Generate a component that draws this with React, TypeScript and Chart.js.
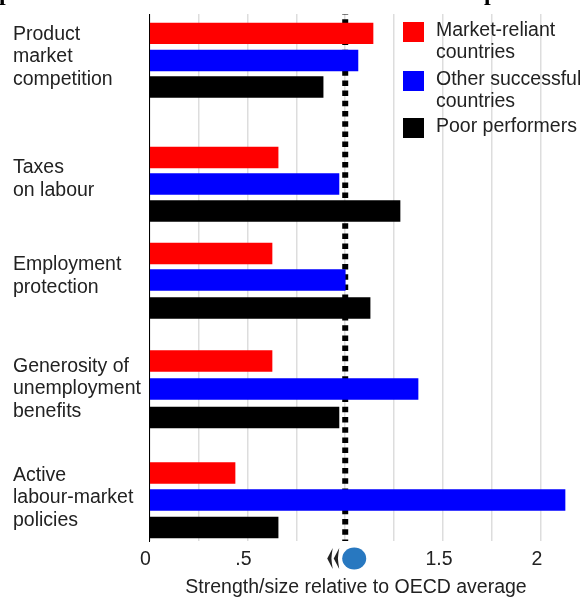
import React, { useEffect, useRef } from "react";
import { Chart, registerables } from "chart.js";

Chart.register(...registerables);

const categories: string[][] = [
  ["Product", "market", "competition"],
  ["Taxes", "on labour"],
  ["Employment", "protection"],
  ["Generosity of", "unemployment", "benefits"],
  ["Active", "labour-market", "policies"],
];
const seriesNames = ["Market-reliant countries", "Other successful countries", "Poor performers"];
const marketReliant = [1.142, 0.657, 0.626, 0.626, 0.437];
const otherSuccessful = [1.065, 0.968, 1.0, 1.372, 2.123];
const poorPerformers = [0.887, 1.28, 1.127, 0.968, 0.657];
const xTickLabels: Record<string, string> = { "0": "0", "0.5": ".5", "1.5": "1.5", "2": "2" };
const xTitle = "Strength/size relative to OECD average";

// row layout on the vertical scale (scale units are page pixels)
const redRows = [33.3, 157.5, 253.5, 361, 473];
const blueRows = [60.5, 184, 280, 389, 500];
const blackRows = [87, 211, 308, 417.5, 527.5];
const labelRows = [57, 179, 276, 389, 498];

const FONT = "Liberation Sans";
const TEXT = "#222222";

const pairs = (vals: number[], rows: number[]) => vals.map((x, i) => ({ x, y: rows[i] }));

const legendPlugin = {
  id: "sideLegend",
  afterDraw(chart: any) {
    const c = chart.ctx;
    const items = [
      { color: "#ff0000", y: 22, lines: ["Market-reliant", "countries"], ys: [30, 52] },
      { color: "#0000ff", y: 71, lines: ["Other successful", "countries"], ys: [79, 100.5] },
      { color: "#000000", y: 118, lines: ["Poor performers"], ys: [125.5] },
    ];
    c.save();
    c.textBaseline = "middle";
    c.textAlign = "left";
    c.font = `19.5px "${FONT}"`;
    items.forEach((it) => {
      c.fillStyle = it.color;
      c.fillRect(403, it.y, 21, 20);
      c.fillStyle = TEXT;
      it.lines.forEach((l, i) => c.fillText(l, 436, it.ys[i] + 1));
    });
    c.restore();
  },
};

const axisExtras = {
  id: "axisExtras",
  afterDraw(chart: any) {
    const c = chart.ctx;
    const sx = chart.scales.x;
    c.save();
    c.fillStyle = TEXT;
    c.textAlign = "center";
    c.textBaseline = "middle";
    c.font = `19.5px "${FONT}"`;
    c.fillText(xTitle, sx.getPixelForValue(1.055), 588);
    // OECD mark in place of the "1" tick label
    const px = sx.getPixelForValue(1);
    c.fillStyle = "#2878c0";
    c.beginPath();
    c.ellipse(px + 9, 558.5, 12, 11, 0, 0, Math.PI * 2);
    c.fill();
    c.fillStyle = "#222";
    [-18, -11.5].forEach((dx) => {
      const x = px + dx;
      c.beginPath();
      c.moveTo(x + 5.5, 548);
      c.lineTo(x, 558.5);
      c.lineTo(x + 5.5, 569);
      c.quadraticCurveTo(x + 4.5, 563, x + 4.2, 558.5);
      c.quadraticCurveTo(x + 4.5, 554, x + 5.5, 548);
      c.fill();
    });
    // clipped heading: only the descenders are left inside the page
    c.fillStyle = "#000";
    c.textAlign = "left";
    c.textBaseline = "alphabetic";
    c.font = `bold 24px "Liberation Serif"`;
    c.fillText("p", -1, 0);
    c.fillText("p", 484, 0);
    c.restore();
  },
};

export default function App() {
  const ref = useRef<HTMLCanvasElement | null>(null);
  useEffect(() => {
    document.body.style.margin = "0";
    const chart = new Chart(ref.current!, {
      type: "bar",
      data: {
        datasets: [
          { label: seriesNames[0], data: pairs(marketReliant, redRows), backgroundColor: "#ff0000", order: 1 },
          { label: seriesNames[1], data: pairs(otherSuccessful, blueRows), backgroundColor: "#0000ff", order: 1 },
          { label: seriesNames[2], data: pairs(poorPerformers, blackRows), backgroundColor: "#000000", order: 1 },
          {
            type: "line",
            label: "OECD average",
            data: [{ x: 1, y: 14 }, { x: 1, y: 541 }],
            borderColor: "#000",
            borderWidth: 6,
            borderDash: [5.5, 4.7],
            borderDashOffset: 5,
            pointRadius: 0,
            order: 2,
          },
        ] as any,
      },
      options: {
        indexAxis: "y",
        responsive: false,
        animation: false,
        parsing: false as any,
        normalized: false,
        layout: { padding: { left: 13, top: 14, right: 2, bottom: 0 } },
        datasets: { bar: { grouped: false, barThickness: 20.6 } } as any,
        plugins: { legend: { display: false }, tooltip: { enabled: false } },
        scales: {
          x: {
            type: "linear",
            min: 0,
            max: 2.22,
            grid: { color: "#dddddd", lineWidth: 1.5, drawTicks: false },
            border: { display: false },
            afterBuildTicks(s: any) {
              const t: any[] = [];
              for (let i = 0; i <= 8; i++) t.push({ value: i * 0.25 });
              s.ticks = t;
            },
            afterFit(s: any) {
              s.height = 58;
              s.paddingLeft = 0;
              s.paddingRight = 0;
            },
            ticks: {
              autoSkip: false,
              maxRotation: 0,
              padding: 7,
              labelOffset: -4,
              color: TEXT,
              font: { family: FONT, size: 19.5 },
              callback: (v: any) => xTickLabels[String(v)] ?? "",
            },
          },
          y: {
            type: "linear",
            reverse: true,
            offset: false,
            min: 14,
            max: 541,
            grid: { display: false, drawTicks: false },
            border: { display: true, color: "#000", width: 1 },
            afterBuildTicks(s: any) {
              s.ticks = labelRows.map((value) => ({ value }));
            },
            afterFit(s: any) {
              s.width = 136.5;
              s.paddingTop = 0;
              s.paddingBottom = 0;
            },
            ticks: {
              autoSkip: false,
              crossAlign: "far",
              color: TEXT,
              font: { family: FONT, size: 19.5, lineHeight: 1.154 },
              callback: (v: any) => categories[labelRows.indexOf(v)] ?? "",
            },
          },
        },
      },
      plugins: [legendPlugin, axisExtras],
    } as any);
    return () => chart.destroy();
  }, []);
  return <canvas ref={ref} width={586} height={599} style={{ display: "block" }} />;
}
